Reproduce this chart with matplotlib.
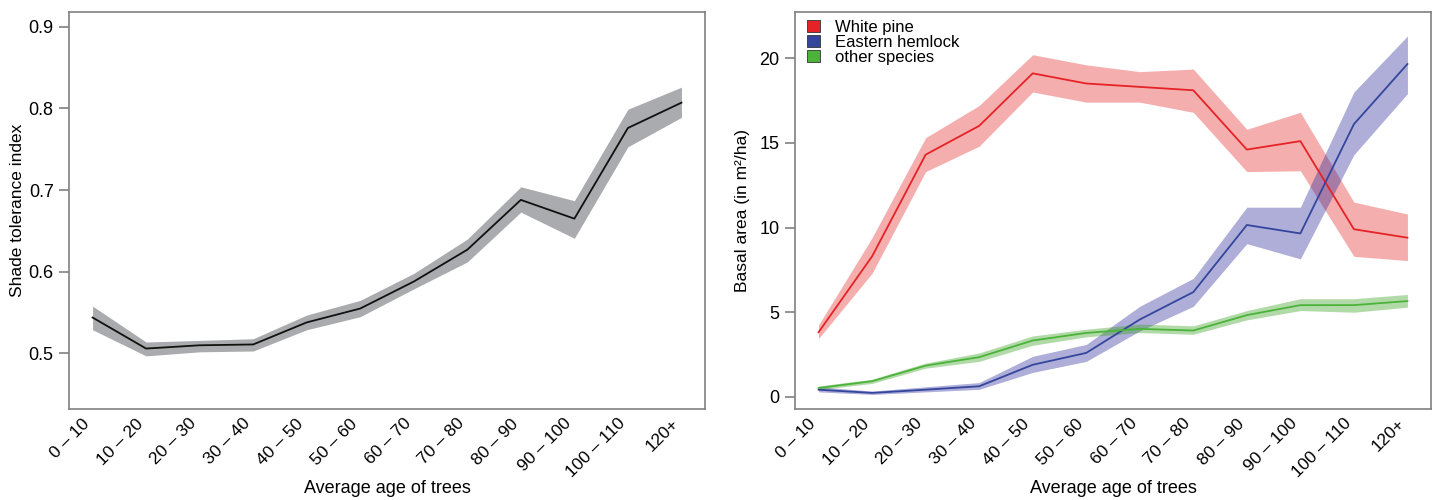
import matplotlib
matplotlib.use('Agg')
import matplotlib.pyplot as plt
from matplotlib.patches import Patch
from matplotlib import font_manager
import numpy as np

# age classes
age_labels = ['0 – 10', '10 – 20', '20 – 30', '30 – 40', '40 – 50', '50 – 60',
              '60 – 70', '70 – 80', '80 – 90', '90 – 100', '100 – 110', '120+']

# shade tolerance index (mean, lower, upper)
sti_mean = [0.544, 0.506, 0.510, 0.511, 0.538, 0.555, 0.588, 0.627, 0.688, 0.665, 0.776, 0.807]
sti_low = [0.529, 0.497, 0.502, 0.503, 0.529, 0.545, 0.579, 0.612, 0.673, 0.641, 0.753, 0.789]
sti_high = [0.558, 0.514, 0.516, 0.518, 0.547, 0.565, 0.598, 0.640, 0.704, 0.687, 0.799, 0.826]

# basal area (m2/ha)
pine_mean = [3.82, 8.3, 14.3, 16.0, 19.1, 18.5, 18.3, 18.1, 14.6, 15.1, 9.9, 9.4]
pine_low = [3.45, 7.3, 13.3, 14.8, 18.0, 17.4, 17.4, 16.8, 13.3, 13.35, 8.3, 8.05]
pine_high = [4.25, 9.4, 15.3, 17.2, 20.2, 19.6, 19.2, 19.35, 15.8, 16.8, 11.5, 10.8]

hemlock_mean = [0.43, 0.24, 0.43, 0.63, 1.9, 2.6, 4.57, 6.19, 10.15, 9.65, 16.1, 19.65]
hemlock_low = [0.3, 0.15, 0.3, 0.45, 1.45, 2.1, 3.9, 5.35, 9.05, 8.15, 14.3, 17.9]
hemlock_high = [0.6, 0.35, 0.6, 0.85, 2.4, 3.1, 5.35, 7.0, 11.2, 11.2, 18.0, 21.3]

other_mean = [0.53, 0.93, 1.85, 2.35, 3.33, 3.78, 4.02, 3.92, 4.83, 5.42, 5.42, 5.66]
other_low = [0.43, 0.8, 1.7, 2.1, 3.05, 3.55, 3.8, 3.7, 4.55, 5.1, 5.0, 5.3]
other_high = [0.65, 1.05, 2.0, 2.6, 3.6, 4.0, 4.3, 4.2, 5.1, 5.8, 5.8, 6.05]

installed = {f.name for f in font_manager.fontManager.ttflist}
narrow = 'Liberation Sans Narrow' if 'Liberation Sans Narrow' in installed else 'Liberation Sans'
plt.rcParams['font.family'] = ['Liberation Sans', 'DejaVu Sans']

x = np.arange(1, len(age_labels) + 1)
fig = plt.figure(figsize=(14.39, 5), dpi=100)
ax1 = fig.add_axes([69/1439, 91/500, (705-69)/1439, (409-12)/500])
ax2 = fig.add_axes([795/1439, 91/500, (1431-795)/1439, (409-12)/500])


def style(ax):
    for s in ax.spines.values():
        s.set_color('#808080')
        s.set_linewidth(1.2)
    ax.set_xlim(0.56, 12.44)
    ax.set_xticks(x)
    ax.set_xticklabels(age_labels, rotation=45, ha='right', va='top',
                       fontsize=12.5, family=narrow)
    ax.tick_params(axis='x', length=0, pad=5)
    ax.tick_params(axis='y', length=7, width=1.2, color='#808080',
                   labelsize=13, pad=4)
    ax.set_xlabel('Average age of trees', fontsize=13, family=narrow, va='center')
    ax.xaxis.set_label_coords(0.5, -0.2)


ax1.fill_between(x, sti_low, sti_high, color='#aaabae', lw=0)
ax1.plot(x, sti_mean, color='#111111', lw=1.3)
ax1.set_ylim(0.432, 0.918)
ax1.set_yticks([0.5, 0.6, 0.7, 0.8, 0.9])
ax1.set_ylabel('Shade tolerance index', fontsize=12.5, va='center')
ax1.yaxis.set_label_coords(-51/636, 0.5)
style(ax1)

series = [
    (pine_mean, pine_low, pine_high, '#e52326', '#e62a2a', 'White pine'),
    (hemlock_mean, hemlock_low, hemlock_high, '#34469c', '#2a2a9b', 'Eastern hemlock'),
    (other_mean, other_low, other_high, '#4bb33a', '#35a01c', 'other species'),
]
for m, lo, hi, lc, bc, name in series:
    ax2.fill_between(x, lo, hi, color=bc, alpha=0.38, lw=0)
for m, lo, hi, lc, bc, name in series:
    ax2.plot(x, m, color=lc, lw=1.3)
ax2.set_ylim(-0.71, 22.72)
ax2.set_yticks([0, 5, 10, 15, 20])
ax2.set_ylabel('Basal area (in m²/ha)', fontsize=12.5, va='center')
ax2.yaxis.set_label_coords(-52/636, 0.5)
style(ax2)

handles = [Patch(facecolor=lc, edgecolor='#333333', lw=0.6, label=name)
           for m, lo, hi, lc, bc, name in series]
ax2.legend(handles=handles, loc='upper left', frameon=False, fontsize=12,
           handlelength=0.8, handleheight=0.7, handletextpad=0.9,
           labelspacing=0.0, borderaxespad=0.3, bbox_to_anchor=(0.0, 1.01))

fig.savefig('out.png', dpi=100)
